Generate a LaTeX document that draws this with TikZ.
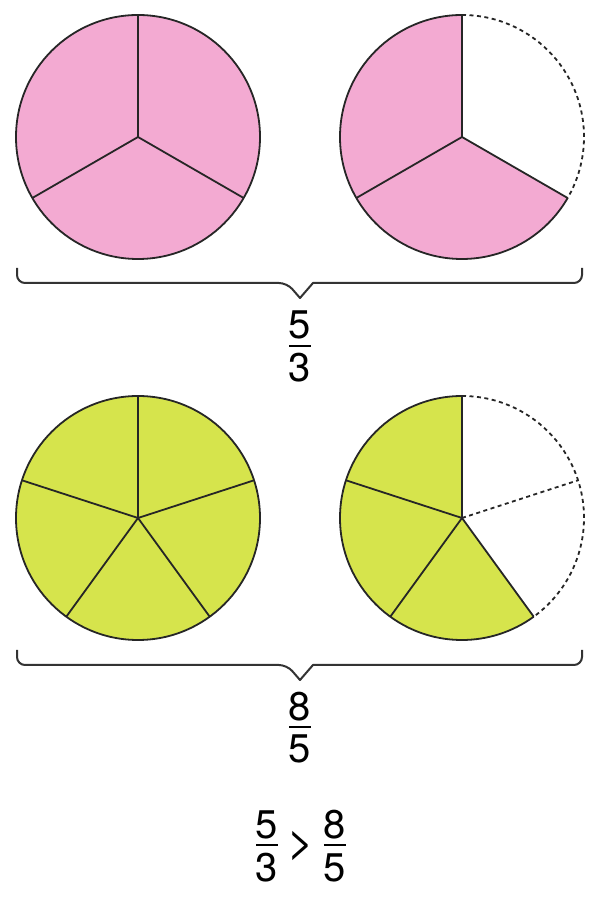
\documentclass[tikz,border=0pt]{standalone}
\usepackage{fontspec}
\setmainfont{TeX Gyre Heros}
\usetikzlibrary{positioning}
\definecolor{piepink}{RGB}{243,170,210}
\definecolor{piegreen}{RGB}{214,228,76}
% fraccion apilada: numerador, raya, denominador
\newcommand{\bigfr}[2]{\vbox{\offinterlineskip\halign{\hfil##\hfil\cr #1\cr\noalign{\kern5pt}\rule{22pt}{2pt}\cr\noalign{\kern7pt}#2\cr}}}

\begin{document}
\begin{tikzpicture}[
            x=1pt, y=1pt,
            % Estilos
            wedge/.style={draw=black!85, line width=1.8pt, line join=round},
            ghost/.style={draw=black!85, line width=1.8pt, dash pattern=on 4pt off 3.5pt},
            bracket/.style={draw=black!80, line width=2pt, line join=round},
            fracnum/.style={font=\fontsize{40}{48}\selectfont, inner sep=0pt},
            relsign/.style={font=\fontsize{46}{52}\selectfont, inner sep=0pt}
        ]
            \useasboundingbox (0,0) rectangle (597,900);

            % Centros de los circulos
            \coordinate (pinkA) at (138,763);
            \coordinate (pinkB) at (462,763);
            \coordinate (greenA) at (138,382);
            \coordinate (greenB) at (462,382);

            % Tercios: circulo completo
            \fill[piepink] (pinkA) circle[radius=122];
            \draw[wedge] (pinkA) circle[radius=122];
            \foreach \a in {90,210,330}
                \draw[wedge] (pinkA) -- ++(\a:122);

            % Tercios: dos partes
            \fill[piepink] (pinkB) -- ++(90:122) arc[start angle=90, end angle=330, radius=122] -- cycle;
            \draw[wedge] (pinkB) ++(330:122) -- (pinkB) -- ++(90:122) arc[start angle=90, end angle=330, radius=122];
            \draw[wedge] (pinkB) -- ++(210:122);
            \draw[ghost] (pinkB) ++(90:122) arc[start angle=90, end angle=-30, radius=122];

            % Quintos: circulo completo
            \fill[piegreen] (greenA) circle[radius=122];
            \draw[wedge] (greenA) circle[radius=122];
            \foreach \a in {90,18,-54,-126,162}
                \draw[wedge] (greenA) -- ++(\a:122);

            % Quintos: tres partes
            \fill[piegreen] (greenB) -- ++(90:122) arc[start angle=90, end angle=306, radius=122] -- cycle;
            \draw[wedge] (greenB) ++(306:122) -- (greenB) -- ++(90:122) arc[start angle=90, end angle=306, radius=122];
            \foreach \a in {162,234}
                \draw[wedge] (greenB) -- ++(\a:122);
            \draw[ghost] (greenB) ++(90:122) arc[start angle=90, end angle=-54, radius=122];
            \draw[ghost] (greenB) -- ++(18:122);

            % Llaves
            \coordinate (tipA) at (300,602);
            \coordinate (tipB) at (300,220);
            \draw[bracket] (17,632) [rounded corners=8pt] -- (17,617) -- (287,617) [sharp corners] -- (tipA) -- (313,617) [rounded corners=8pt] -- (582,617) -- (582,632);
            \draw[bracket] (17,250) [rounded corners=8pt] -- (17,235) -- (287,235) [sharp corners] -- (tipB) -- (313,235) [rounded corners=8pt] -- (582,235) -- (582,250);

            % Fracciones
            \node[fracnum, below=13pt of tipA] (thirds) {\bigfr{5}{3}};
            \node[fracnum, below=12pt of tipB] (fifths) {\bigfr{8}{5}};

            % Comparacion
            \node[relsign] (gt) at (301,54) {>};
            \node[fracnum, left=9pt of gt] (lhs) {\bigfr{5}{3}};
            \node[fracnum, right=9pt of gt] (rhs) {\bigfr{8}{5}};
        \end{tikzpicture}
\end{document}
